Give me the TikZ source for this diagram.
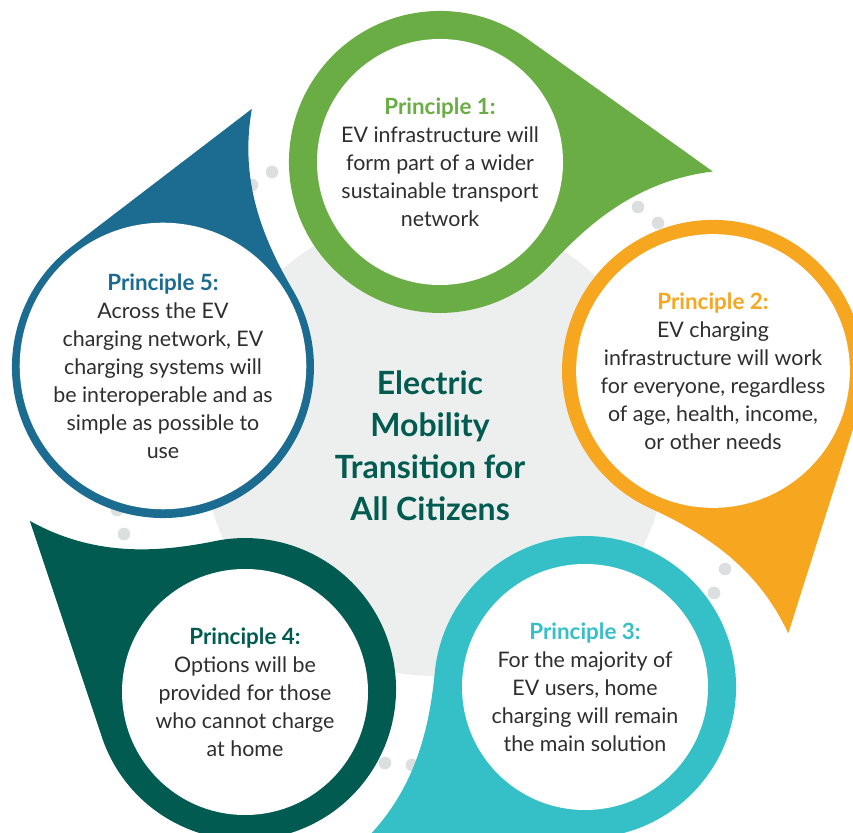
\documentclass[tikz,border=0pt]{standalone}
\usepackage{fontspec}
\setmainfont{Lato}
\definecolor{pgreen}{HTML}{6AAD45}
\definecolor{porange}{HTML}{F6A61F}
\definecolor{pteal}{HTML}{35C0C8}
\definecolor{pdark}{HTML}{025B50}
\definecolor{pblue}{HTML}{1B6C90}
\definecolor{centergray}{HTML}{EDEEEE}
\definecolor{dotgray}{HTML}{DCDFE0}
\definecolor{bodytext}{HTML}{2E2E2E}
% pin: centre x, centre y, angle of the tip, colour
\newcommand{\pin}[4]{\fill[#4,shift={(#1,#2)},rotate=#3] (273,0) -- (83.5,125.8) arc[start angle=56.4,end angle=320,radius=151pt] .. controls (156,-50) and (203,-11) .. (273,0) -- cycle;}

\begin{document}
\begin{tikzpicture}[x=1pt,y=1pt]
    \tikzstyle{inner}=[circle,fill=white,inner sep=0pt,minimum size=246pt,align=center,text=bodytext,font=\fontsize{21.4}{28}\selectfont]
    \tikzstyle{dot}=[fill=dotgray]
    \useasboundingbox (0,0) rectangle (853,832);
    \clip (0,0) rectangle (853,832);
    \fill[centergray] (435,388) circle[radius=232pt];
    \fill[dot] (272,660) circle[radius=6.3pt] (252,647) circle[radius=6.3pt];
    \fill[dot] (638,625) circle[radius=6.3pt] (658,609) circle[radius=6.3pt];
    \fill[dot] (725,263) circle[radius=6.3pt] (714,239) circle[radius=6.3pt];
    \fill[dot] (385,69) circle[radius=6.3pt] (412,67) circle[radius=6.3pt];
    \fill[dot] (124,298) circle[radius=6.3pt] (117,322) circle[radius=6.3pt];
    \pin{440}{670}{-2}{pgreen}
    \pin{713}{461}{-74}{porange}
    \pin{585}{145}{-145}{pteal}
    \pin{245}{143}{-218}{pdark}
    \pin{163}{465}{71}{pblue}
    \node[inner] (p1) at (440,670) {{\fontsize{22.4}{28}\selectfont\bfseries\color{pgreen}Principle 1:}\\EV infrastructure will\\form part of a wider\\sustainable transport\\network};
    \node[inner] (p2) at (713,461) {{\fontsize{22.4}{28}\selectfont\bfseries\color{porange}Principle 2:}\\EV charging\\infrastructure will work\\for everyone, regardless\\of age, health, income,\\or other needs};
    \node[inner] (p3) at (585,145) {{\fontsize{22.4}{28}\selectfont\bfseries\color{pteal}Principle 3:}\\For the majority of\\EV users, home\\charging will remain\\the main solution};
    \node[inner] (p4) at (245,140) {{\fontsize{22.4}{28}\selectfont\bfseries\color{pdark}Principle 4:}\\Options will be\\provided for those\\who cannot charge\\at home};
    \node[inner] (p5) at (163,466) {{\fontsize{22.4}{28}\selectfont\bfseries\color{pblue}Principle 5:}\\Across the EV\\charging network, EV\\charging systems will\\be interoperable and as\\simple as possible to\\use};
    \node[align=center,text=pdark,font=\fontsize{32}{42}\selectfont\bfseries] (title) at (430,386) {Electric\\Mobility\\Transition for\\All Citizens};
\end{tikzpicture}
\end{document}
